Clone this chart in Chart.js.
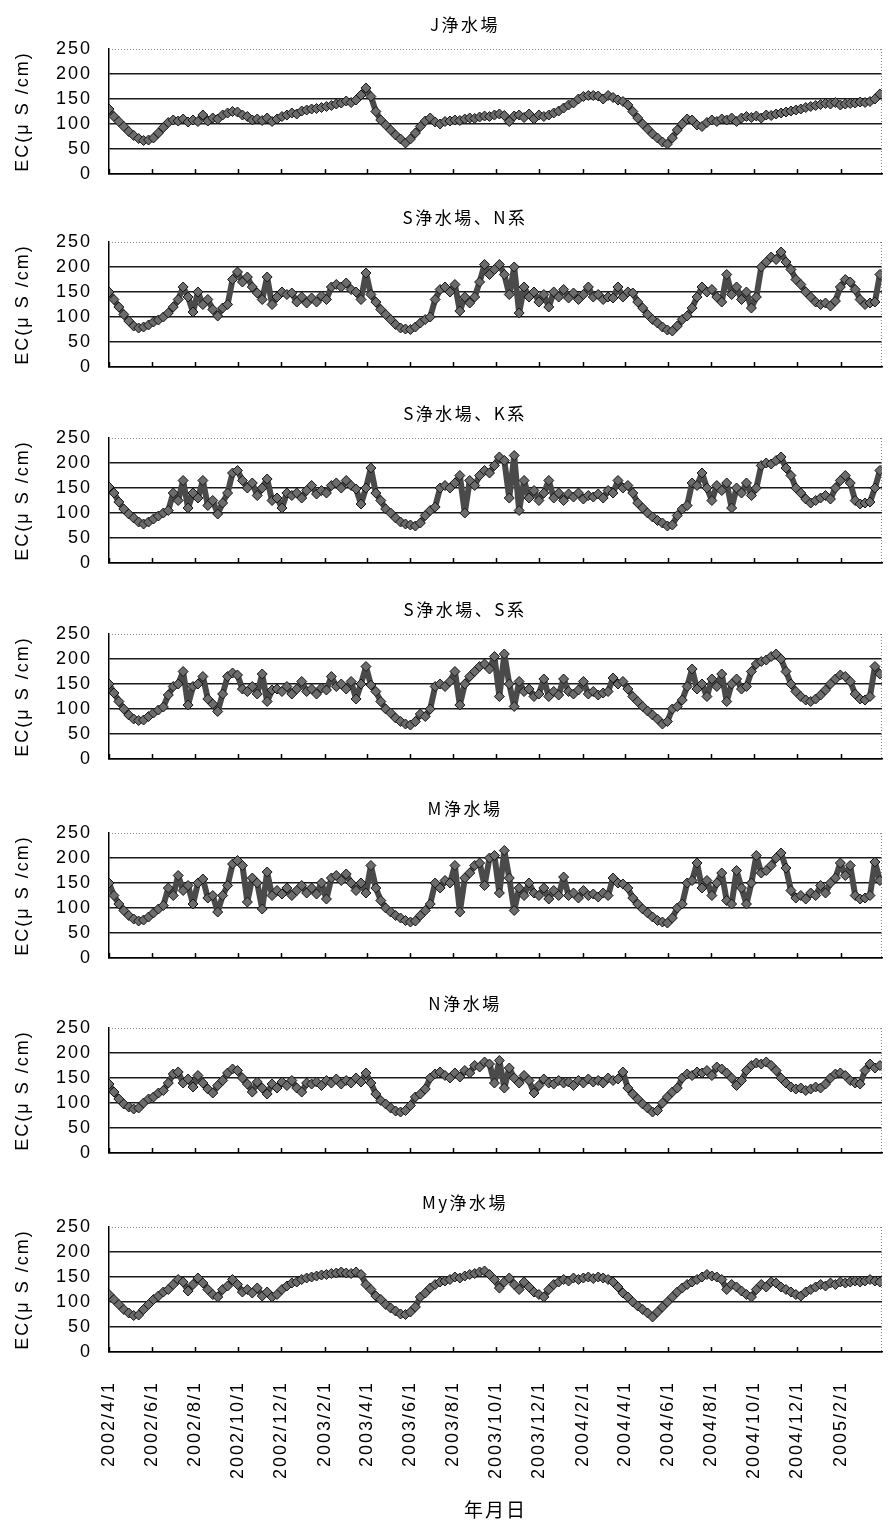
<!DOCTYPE html>
<html lang="ja">
<head>
<meta charset="utf-8">
<title>浄水場別 EC の推移</title>
<script src="https://cdn.jsdelivr.net/npm/chart.js@4.4.0/dist/chart.umd.min.js"></script>
<style>
  html, body { margin: 0; padding: 0; background: #fff; }
  #page { position: relative; width: 888px; height: 1522px; overflow: hidden; }
  #page canvas { position: absolute; left: 0; }
</style>
</head>
<body>
<div id="page"></div>
<script>
// weekly EC readings (μS/cm), first value on 2002/4/1, one value every 7 days
const STEP_DAYS = 7;

const PLANTS = ['J浄水場', 'S浄水場、N系', 'S浄水場、K系', 'S浄水場、S系', 'M浄水場', 'N浄水場', 'My浄水場'];

const TICK_LABELS = [
  '2002/4/1', '2002/6/1', '2002/8/1', '2002/10/1', '2002/12/1', '2003/2/1',
  '2003/4/1', '2003/6/1', '2003/8/1', '2003/10/1', '2003/12/1', '2004/2/1',
  '2004/4/1', '2004/6/1', '2004/8/1', '2004/10/1', '2004/12/1', '2005/2/1'
];

// one row per quarter (Apr-Jun 2002 ... Jan-Mar 2005), last value end of March 2005
const EC_J = [
  130, 115, 105, 95, 85, 77, 71, 67, 68, 72, 82, 93, 103,
  108, 106, 110, 104, 108, 105, 118, 106, 112, 110, 118, 122, 125,
  124, 118, 115, 108, 110, 107, 112, 105, 110, 115, 118, 122, 120,
  126, 128, 130, 131, 133, 135, 137, 140, 142, 146, 143, 148, 158,
  172, 155, 125, 108, 98, 88, 78, 70, 62, 70, 82, 95, 106,
  112, 104, 100, 105, 106, 108, 107, 110, 112, 111, 114, 116, 115,
  118, 120, 117, 105, 116, 118, 113, 120, 110, 118, 115, 118, 122,
  126, 132, 138, 142, 150, 155, 157, 157, 156, 150, 157, 153, 148,
  145, 138, 125, 112, 100, 90, 80, 72, 64, 60, 72, 88, 100,
  110, 108, 98, 95, 103, 108, 105, 110, 108, 112, 105, 112, 115,
  113, 116, 112, 118, 117, 120, 122, 124, 126, 128, 130, 133, 135,
  137, 139, 141, 140, 143, 138, 140, 141, 142, 144, 143, 145, 150,
  160
];

const EC_S_N = [
  150, 135, 120, 105, 92, 82, 78, 80, 84, 90, 94, 100, 108,
  120, 135, 160, 140, 110, 150, 125, 135, 115, 102, 118, 125, 175,
  190, 170, 180, 160, 148, 135, 180, 125, 140, 150, 145, 148, 130,
  140, 128, 138, 130, 142, 135, 160, 165, 160, 168, 155, 150, 135,
  188, 145, 130, 115, 105, 95, 85, 78, 76, 75, 80, 88, 95,
  100, 135, 155, 160, 150, 165, 112, 140, 128, 140, 170, 205, 185,
  195, 205, 185, 145, 200, 108, 160, 140, 150, 130, 145, 120, 150,
  140, 155, 138, 148, 135, 145, 160, 140, 145, 135, 140, 138, 160,
  140, 150, 148, 130, 118, 105, 95, 88, 80, 74, 72, 82, 95,
  102, 118, 140, 160, 150, 155, 140, 130, 185, 145, 160, 135, 150,
  118, 140, 200, 210, 220, 215, 230, 210, 195, 175, 165, 150, 140,
  130, 125, 128, 122, 132, 160, 175, 170, 155, 135, 125, 128, 130,
  185
];

const EC_S_K = [
  152, 140, 122, 108, 98, 90, 82, 78, 82, 88, 94, 100, 105,
  140, 125, 165, 110, 140, 130, 165, 115, 125, 98, 120, 140, 180,
  185, 165, 150, 160, 135, 150, 168, 125, 130, 110, 140, 135, 140,
  130, 145, 155, 138, 145, 140, 155, 160, 150, 165, 155, 148, 118,
  150, 190, 140, 125, 108, 100, 90, 82, 78, 76, 74, 80, 95,
  105, 112, 150, 155, 150, 160, 175, 100, 165, 155, 175, 185, 180,
  195, 212, 205, 130, 215, 105, 165, 130, 145, 125, 140, 165, 130,
  140, 125, 138, 132, 140, 128, 135, 132, 138, 130, 145, 140, 165,
  150, 155, 140, 120, 110, 100, 92, 85, 80, 74, 76, 95, 108,
  115, 160, 155, 180, 150, 125, 155, 145, 160, 110, 150, 140, 160,
  135, 150, 195, 200, 198, 205, 212, 190, 175, 150, 140, 128, 120,
  125, 130, 135, 128, 150, 165, 175, 160, 125, 118, 120, 122, 150,
  185
];

const EC_S_S = [
  150, 132, 115, 100, 88, 80, 77, 78, 85, 92, 98, 104, 128,
  145, 150, 175, 108, 145, 150, 165, 120, 110, 95, 130, 165, 172,
  168, 140, 135, 145, 130, 170, 115, 138, 140, 135, 145, 130, 140,
  155, 135, 140, 130, 142, 138, 165, 145, 150, 140, 155, 120, 150,
  185, 148, 135, 115, 100, 92, 82, 75, 70, 68, 75, 90, 85,
  100, 145, 150, 145, 155, 175, 108, 150, 165, 175, 185, 190, 180,
  205, 125, 210, 150, 105, 155, 135, 140, 125, 130, 160, 125, 135,
  128, 160, 135, 130, 138, 155, 130, 135, 128, 132, 135, 162, 150,
  155, 140, 125, 115, 105, 96, 88, 80, 70, 75, 100, 105, 118,
  145, 180, 140, 150, 125, 160, 145, 170, 115, 150, 160, 140, 145,
  175, 190, 195, 198, 205, 210, 200, 175, 150, 135, 125, 118, 115,
  120, 128, 138, 150, 160, 168, 165, 155, 130, 120, 118, 125, 185,
  170
];

const EC_M = [
  150, 125, 108, 95, 85, 78, 74, 76, 82, 90, 98, 105, 140,
  125, 165, 135, 145, 108, 150, 158, 120, 125, 92, 125, 145, 188,
  195, 185, 112, 160, 150, 98, 172, 125, 135, 128, 140, 125, 135,
  145, 130, 140, 128, 150, 118, 160, 165, 155, 168, 150, 135, 150,
  130, 185, 140, 115, 100, 92, 85, 80, 75, 72, 74, 85, 95,
  108, 150, 140, 155, 150, 185, 92, 160, 170, 185, 190, 145, 200,
  205, 130, 215, 160, 95, 140, 125, 150, 130, 125, 140, 118, 135,
  125, 162, 125, 130, 120, 135, 125, 128, 122, 130, 125, 160, 150,
  148, 140, 120, 108, 98, 90, 82, 75, 72, 70, 80, 100, 108,
  150, 155, 190, 140, 155, 125, 150, 170, 115, 108, 175, 140, 108,
  150, 205, 170, 175, 185, 200, 210, 180, 135, 120, 125, 118, 130,
  125, 145, 130, 150, 160, 190, 165, 185, 125, 118, 120, 125, 192,
  155
];

const EC_N = [
  138, 122, 108, 98, 92, 88, 90, 100, 108, 112, 120, 125, 140,
  158, 162, 140, 148, 132, 155, 140, 128, 120, 135, 145, 160, 168,
  165, 150, 138, 122, 142, 130, 118, 138, 130, 142, 135, 145, 130,
  122, 140, 138, 142, 135, 145, 140, 148, 138, 145, 140, 150, 142,
  160, 140, 118, 105, 98, 90, 84, 82, 85, 95, 112, 118, 128,
  150, 158, 162, 155, 150, 160, 152, 165, 160, 175, 172, 182, 178,
  140, 185, 130, 170, 150, 140, 155, 145, 120, 135, 148, 140, 138,
  145, 140, 142, 135, 145, 140, 148, 142, 145, 140, 150, 145, 148,
  162, 130, 118, 108, 98, 90, 82, 85, 100, 112, 122, 130, 150,
  158, 155, 162, 160, 165, 155, 172, 168, 160, 150, 135, 145, 165,
  175, 180, 178, 182, 175, 165, 150, 140, 132, 128, 130, 125, 128,
  132, 130, 138, 150, 158, 160, 155, 145, 140, 138, 165, 178, 170,
  175
];

const EC_MY = [
  115, 105, 95, 85, 78, 73, 74, 85, 95, 105, 112, 120, 125,
  135, 145, 140, 122, 135, 148, 138, 125, 115, 110, 125, 132, 145,
  135, 120, 125, 118, 128, 112, 120, 110, 115, 125, 132, 138, 140,
  145, 148, 150, 152, 154, 155, 157, 158, 160, 158, 157, 160, 155,
  135, 125, 112, 105, 95, 88, 82, 76, 75, 80, 90, 110, 118,
  128, 135, 140, 142, 145, 150, 148, 152, 155, 157, 160, 162, 155,
  145, 128, 140, 148, 135, 125, 140, 130, 120, 115, 110, 125, 135,
  140, 145, 142, 148, 145, 148, 150, 147, 150, 148, 145, 140, 130,
  118, 110, 100, 92, 85, 78, 70, 80, 90, 100, 110, 120, 128,
  135, 140, 145, 150, 155, 152, 150, 145, 125, 135, 130, 122, 115,
  110, 125, 135, 130, 140, 138, 130, 125, 120, 115, 112, 120, 125,
  130, 135, 132, 138, 135, 140, 138, 140, 142, 140, 142, 145, 142,
  140
];

const SERIES = [EC_J, EC_S_N, EC_S_K, EC_S_S, EC_M, EC_N, EC_MY];

// x axis runs in days counted from 2002/4/1
const START = Date.UTC(2002, 3, 1);
const dayOf = s => {
  const [y, m, d] = s.split('/').map(Number);
  return (Date.UTC(y, m - 1, d) - START) / 86400000;
};
const TICK_DAYS = TICK_LABELS.map(dayOf);
const LAST_DAY = dayOf('2005/3/31');

// page layout
const PLOT_TOP = [49, 242, 438, 634, 833, 1028, 1227];
const PLOT_H = 125;
const HEAD = 36;      // space above each plot for its title
const FOOT = 170;     // date labels + axis title under the last plot
const GAP = 14;       // room for the "0" label under the other plots
const Y_AXIS_W = 109;
const TITLE_X = 465;

const LATIN = "'Liberation Sans', Arial, sans-serif";
const CJK = "'Noto Sans CJK JP', sans-serif";

// title, dotted frame on top/right, and short inward ticks on the date axis
const panelDecor = {
  id: 'panelDecor',
  beforeDraw(chart) {
    chart.ctx.letterSpacing = '2px';
  },
  afterDraw(chart, args, opts) {
    const { ctx, chartArea: a, scales: { x } } = chart;
    ctx.save();
    ctx.letterSpacing = '2.5px';
    ctx.fillStyle = '#000';
    ctx.font = '17px ' + CJK;
    ctx.textAlign = 'center';
    ctx.textBaseline = 'middle';
    ctx.fillText(opts.title, TITLE_X, a.top - 24);

    ctx.strokeStyle = '#888';
    ctx.lineWidth = 1;
    ctx.setLineDash([1, 2]);
    ctx.beginPath();
    ctx.moveTo(a.left, a.top + 0.5);
    ctx.lineTo(a.right, a.top + 0.5);
    ctx.moveTo(a.right - 0.5, a.top);
    ctx.lineTo(a.right - 0.5, a.bottom);
    ctx.stroke();

    ctx.setLineDash([]);
    ctx.strokeStyle = '#000';
    ctx.lineWidth = 1.5;
    ctx.beginPath();
    x.ticks.forEach(t => {
      const px = Math.round(x.getPixelForValue(t.value)) + 0.5;
      ctx.moveTo(px, a.bottom);
      ctx.lineTo(px, a.bottom - 5);
    });
    ctx.stroke();
    ctx.restore();
  }
};

const page = document.getElementById('page');

SERIES.forEach((values, i) => {
  const last = i === SERIES.length - 1;
  const h = HEAD + PLOT_H + (last ? FOOT : GAP);
  const canvas = document.createElement('canvas');
  canvas.width = 888;
  canvas.height = h;
  canvas.style.top = (PLOT_TOP[i] - HEAD) + 'px';
  canvas.style.width = '888px';
  canvas.style.height = h + 'px';
  page.appendChild(canvas);

  new Chart(canvas, {
    type: 'line',
    data: {
      datasets: [{
        data: values.map((v, k) => ({ x: k * STEP_DAYS, y: v })),
        borderColor: '#4a4a4a',
        borderWidth: 6,
        borderJoinStyle: 'round',
        borderCapStyle: 'round',
        tension: 0,
        pointStyle: 'rectRot',
        pointRadius: 5,
        pointHoverRadius: 5,
        pointBackgroundColor: '#6c6c6c',
        pointBorderColor: '#151515',
        pointBorderWidth: 1
      }]
    },
    options: {
      responsive: false,
      animation: false,
      devicePixelRatio: 1,
      layout: { padding: { top: HEAD, right: 5, bottom: last ? 0 : GAP, left: 0 } },
      plugins: {
        legend: { display: false },
        tooltip: { enabled: false },
        title: { display: false },
        panelDecor: { title: PLANTS[i] }
      },
      scales: {
        x: {
          type: 'linear',
          min: 0,
          max: LAST_DAY,
          afterBuildTicks: s => { s.ticks = TICK_DAYS.map(v => ({ value: v })); },
          afterFit: s => { s.height = last ? FOOT : 0; },
          grid: { display: false },
          border: { display: true, color: '#000', width: 1.5 },
          ticks: {
            display: last,
            autoSkip: false,
            minRotation: 90,
            maxRotation: 90,
            padding: 21,
            color: '#000',
            font: { family: LATIN, size: 18, lineHeight: 1 },
            callback: (v, idx) => TICK_LABELS[idx]
          },
          title: {
            display: last,
            text: '年月日',
            color: '#000',
            font: { family: CJK, size: 19, lineHeight: 1 },
            padding: { top: 0, bottom: 2.5 }
          }
        },
        y: {
          min: 0,
          max: 250,
          afterFit: s => {
            s.width = Y_AXIS_W;
            s.paddingTop = 0;
            s.paddingBottom = 0;
          },
          grid: {
            drawTicks: false,
            lineWidth: 1.5,
            color: c => (c.tick && c.tick.value === 250) ? 'rgba(0,0,0,0)' : '#1a1a1a'
          },
          border: { display: true, color: '#000', width: 1.5 },
          ticks: {
            stepSize: 50,
            padding: 17,
            color: '#000',
            font: { family: LATIN, size: 18, lineHeight: 1 }
          },
          title: {
            display: true,
            text: 'EC(μ S /cm)',
            color: '#000',
            font: { family: LATIN, size: 18, lineHeight: 1 },
            padding: { top: 14, bottom: 0 }
          }
        }
      }
    },
    plugins: [panelDecor]
  });
});
</script>
</body>
</html>
